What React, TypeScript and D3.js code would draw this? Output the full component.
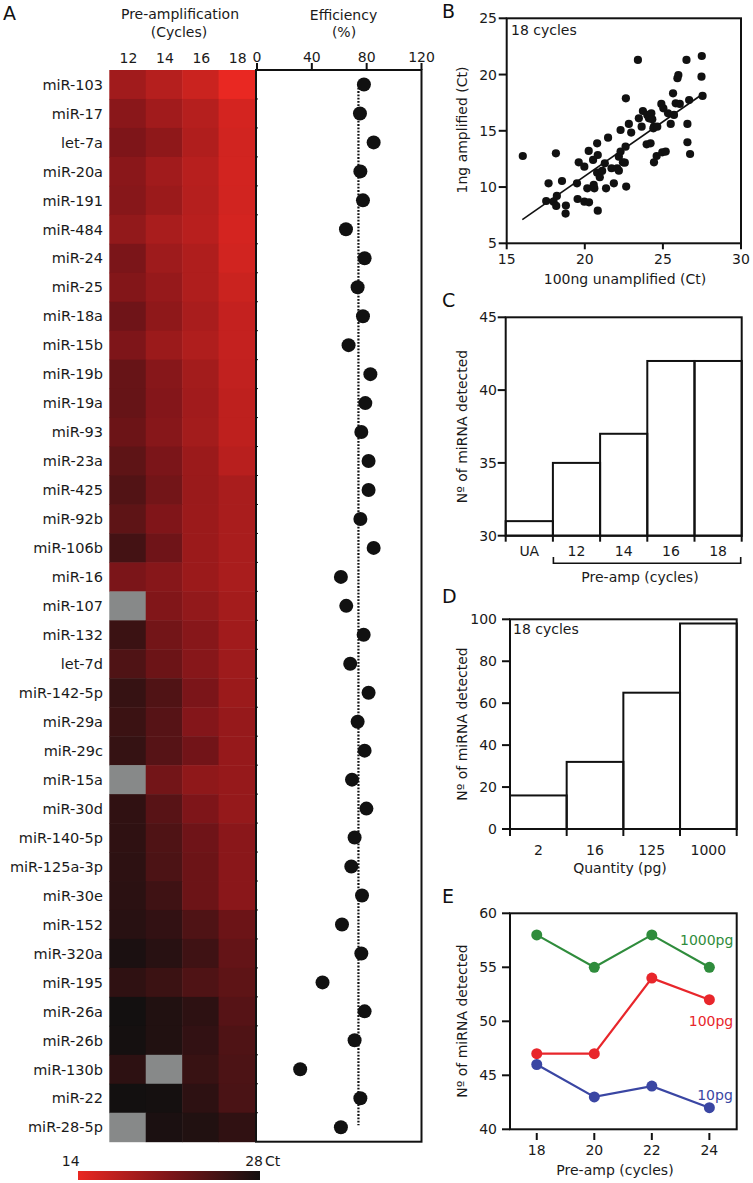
import React from "react";
import * as d3 from "d3";

// ---------- Panel A data ----------
const mirnas = [
  "miR-103", "miR-17", "let-7a", "miR-20a", "miR-191", "miR-484", "miR-24", "miR-25",
  "miR-18a", "miR-15b", "miR-19b", "miR-19a", "miR-93", "miR-23a", "miR-425", "miR-92b",
  "miR-106b", "miR-16", "miR-107", "miR-132", "let-7d", "miR-142-5p", "miR-29a", "miR-29c",
  "miR-15a", "miR-30d", "miR-140-5p", "miR-125a-3p", "miR-30e", "miR-152", "miR-320a",
  "miR-195", "miR-26a", "miR-26b", "miR-130b", "miR-22", "miR-28-5p",
];
const cycleLabels = ["12", "14", "16", "18"];
const ct12 = [18.7, 20.2, 21.0, 20.2, 20.4, 19.7, 21.2, 20.7, 22.0, 21.0, 22.5, 22.6, 22.2, 23.1, 23.9, 23.1, 24.8, 21.2, null, 25.4, 24.1, 25.7, 25.4, 25.8, null, 26.1, 26.2, 26.3, 26.4, 26.6, 27.5, 26.2, 28.0, 27.9, 26.3, 28.0, null];
const ct14 = [17.4, 18.7, 19.9, 18.7, 19.1, 18.2, 18.9, 19.4, 19.9, 19.1, 20.4, 20.6, 20.4, 21.2, 21.7, 20.9, 22.0, 20.4, 20.8, 21.7, 22.2, 24.0, 23.6, 23.6, 21.7, 23.5, 24.1, 24.3, 25.1, 26.0, 26.6, 25.4, 27.1, 27.1, null, 27.9, 27.5];
const ct16 = [16.0, 17.4, 17.7, 17.3, 17.4, 17.2, 17.8, 17.8, 18.2, 17.8, 18.6, 18.7, 18.6, 19.1, 19.2, 19.1, 19.1, 19.1, 19.7, 20.4, 20.4, 21.2, 20.6, 21.8, 19.9, 21.0, 22.0, 22.2, 22.2, 24.1, 25.1, 24.1, 26.3, 26.0, 25.6, 26.3, 27.1];
const ct18 = [14.0, 15.4, 15.6, 15.5, 15.6, 15.4, 15.6, 16.0, 16.4, 16.4, 16.6, 16.8, 16.8, 17.2, 18.2, 18.2, 18.2, 18.2, 18.5, 18.7, 18.9, 19.1, 19.4, 19.4, 19.4, 19.5, 20.2, 20.2, 20.2, 22.2, 22.7, 23.1, 23.6, 24.1, 24.3, 24.4, 26.1];
const efficiency = [78.0, 75.1, 85.1, 75.4, 77.3, 64.9, 78.5, 73.4, 77.3, 66.8, 82.7, 79.0, 76.1, 81.4, 81.4, 75.4, 85.1, 61.2, 65.1, 77.8, 68.0, 81.4, 73.4, 78.5, 69.3, 79.8, 71.2, 68.8, 76.6, 62.0, 76.1, 47.8, 78.5, 71.2, 31.5, 75.4, 61.2];
const effTicks = [0, 40, 80, 120];
const effMedian = 74;
const ctLegend = [14, 28];

// ---------- Panel B data ----------
const scatterX = [16.03, 18.15, 17.68, 18.54, 17.53, 18.0, 18.21, 18.17, 18.79, 18.77, 19.61, 19.97, 19.5, 19.54, 19.97, 20.27, 20.25, 20.79, 20.53, 20.83, 20.16, 20.57, 20.61, 20.79, 20.96, 21.11, 21.28, 20.83, 21.36, 21.49, 21.71, 21.86, 22.07, 22.18, 22.18, 22.29, 22.44, 22.61, 22.29, 22.56, 22.65, 22.63, 22.82, 22.97, 23.4, 23.46, 23.64, 23.72, 24.0, 24.11, 23.96, 24.21, 24.26, 24.32, 24.43, 24.39, 24.64, 24.43, 24.6, 24.96, 25.18, 24.9, 25.03, 25.33, 25.5, 25.65, 25.71, 25.82, 25.93, 25.99, 26.08, 26.51, 26.68, 26.57, 26.57, 26.74, 27.49, 27.47, 27.54];
const scatterY = [12.76, 13.0, 10.33, 10.54, 8.76, 8.7, 9.21, 8.32, 8.35, 7.64, 12.2, 11.81, 10.33, 8.94, 8.7, 8.64, 13.21, 13.89, 12.41, 12.85, 9.89, 10.19, 9.89, 11.28, 10.87, 11.43, 12.11, 7.9, 9.89, 14.39, 11.67, 10.33, 11.67, 11.46, 12.7, 13.15, 12.2, 13.59, 15.07, 12.17, 10.04, 17.89, 15.61, 14.84, 21.3, 16.11, 15.37, 16.76, 16.41, 16.11, 13.8, 13.89, 16.55, 16.02, 15.37, 15.22, 15.37, 12.2, 12.76, 13.09, 13.15, 17.39, 17.0, 16.55, 15.61, 18.33, 16.41, 17.44, 19.67, 19.96, 17.39, 21.3, 17.74, 15.61, 13.98, 12.94, 21.65, 19.81, 18.1];
const fitSlope = 0.967;
const fitIntercept = -8.37;
const fitRange = [16.0, 27.55];
const bTicksX = [15, 20, 25, 30];
const bTicksY = [5, 10, 15, 20, 25];

// ---------- Panel C data ----------
const cCategories = ["UA", "12", "14", "16", "18"];
const cValues = [31, 35, 37, 42, 42];
const cTicks = [30, 35, 40, 45];

// ---------- Panel D data ----------
const dCategories = ["2", "16", "125", "1000"];
const dValues = [16, 32, 65, 98];
const dTicks = [0, 20, 40, 60, 80, 100];

// ---------- Panel E data ----------
const eCycles = [18, 20, 22, 24];
const e1000 = [58, 55, 58, 55];
const e100 = [47, 47, 54, 52];
const e10 = [46, 43, 44, 42];
const eTicks = [40, 45, 50, 55, 60];

const FONT = "'DejaVu Sans', sans-serif";
const FS = 14;

export default function App() {
  // Panel A scales
  const rowBand = d3.scaleBand<string>().domain(mirnas).range([70, 1141.7]);
  const colBand = d3.scaleBand<string>().domain(cycleLabels).range([109.3, 255]);
  const effX = d3.scaleLinear().domain([0, 120]).range([257, 421.5]);
  const heat = d3
    .scaleLinear<string>()
    .domain([14, 21, 28])
    .range(["#e92822", "#7e1519", "#131010"])
    .interpolate(d3.interpolateRgb)
    .clamp(true);
  const ctCols = [ct12, ct14, ct16, ct18];
  const rh = rowBand.bandwidth();

  // Panel B scales
  const bx = d3.scaleLinear().domain([15, 30]).range([506.7, 741]);
  const by = d3.scaleLinear().domain([5, 25]).range([243.3, 18.3]);

  // Panel C
  const cx = d3.scaleBand<string>().domain(cCategories).range([505.7, 741.7]);
  const cy = d3.scaleLinear().domain([30, 45]).range([535.7, 317.3]);

  // Panel D
  const dx = d3.scaleBand<string>().domain(dCategories).range([510, 736.7]);
  const dy = d3.scaleLinear().domain([0, 100]).range([829, 619.3]);

  // Panel E
  const ex = d3.scaleLinear().domain([17.07, 24.95]).range([510, 736.7]);
  const ey = d3.scaleLinear().domain([40, 60]).range([1129.3, 913.3]);
  const eLine = d3
    .line<number>()
    .x((_, i) => ex(eCycles[i]))
    .y((v) => ey(v));
  const eSeries = [
    { vals: e1000, color: "#2f8c3c", label: "1000pg", lx: 706.7, ly: 945 },
    { vals: e100, color: "#e8262b", label: "100pg", lx: 711, ly: 1025.5 },
    { vals: e10, color: "#3a46a3", label: "10pg", lx: 715, ly: 1100 },
  ];

  const bandEdges = (sc: d3.ScaleBand<string>) => {
    const d = sc.domain();
    const e = d.map((k) => sc(k) as number);
    e.push((sc(d[d.length - 1]) as number) + sc.bandwidth());
    return e;
  };

  const txt = { fontFamily: FONT, fontSize: FS, fill: "#1a1a1a" } as const;
  const yTitle = (cxp: number, cyp: number, s: string) => (
    <text
      transform={`translate(${cxp},${cyp}) rotate(-90)`}
      textAnchor="middle"
      dominantBaseline="central"
      {...txt}
    >
      {s}
    </text>
  );

  return (
    <svg
      width={753}
      height={1183}
      style={{ position: "absolute", left: 0, top: 0, display: "block", background: "#fff" }}
    >
      <defs>
        <linearGradient id="ctgrad" x1="0" x2="1" y1="0" y2="0">
          <stop offset="0%" stopColor={heat(ctLegend[0])} />
          <stop offset="50%" stopColor={heat((ctLegend[0] + ctLegend[1]) / 2)} />
          <stop offset="100%" stopColor={heat(ctLegend[1])} />
        </linearGradient>
      </defs>
      <rect x={0} y={0} width={753} height={1183} fill="#fff" />

      {/* ================= Panel A ================= */}
      <text x={3} y={20} fontFamily={FONT} fontSize={19} fill="#111">A</text>
      <text x={180} y={19} textAnchor="middle" {...txt}>Pre-amplification</text>
      <text x={179} y={37} textAnchor="middle" {...txt}>(Cycles)</text>
      <text x={343.5} y={20} textAnchor="middle" {...txt}>Efficiency</text>
      <text x={344} y={37} textAnchor="middle" {...txt}>(%)</text>
      {cycleLabels.map((c) => (
        <text key={c} x={(colBand(c) as number) + colBand.bandwidth() / 2 + 1} y={62.5} textAnchor="middle" {...txt}>
          {c}
        </text>
      ))}
      {/* heatmap */}
      {mirnas.map((m, i) =>
        cycleLabels.map((c, j) => {
          const v = ctCols[j][i];
          return (
            <rect
              key={m + c}
              x={colBand(c) as number}
              y={rowBand(m) as number}
              width={colBand.bandwidth() + 0.5}
              height={rh + 0.5}
              fill={v == null ? "#878989" : heat(v)}
            />
          );
        })
      )}
      {mirnas.map((m) => (
        <text key={m} x={103} y={(rowBand(m) as number) + rh / 2} dy="0.36em" textAnchor="end" fontFamily={FONT} fontSize={14.5} fill="#1a1a1a">
          {m}
        </text>
      ))}
      {/* efficiency box */}
      <rect x={256} y={70} width={165.5} height={1071.7} fill="none" stroke="#111" strokeWidth={2} />
      {effTicks.map((t) => (
        <g key={t}>
          <line x1={effX(t)} x2={effX(t)} y1={63} y2={70} stroke="#111" strokeWidth={2} />
          <text x={effX(t)} y={61.5} textAnchor="middle" {...txt}>
            {t}
          </text>
        </g>
      ))}
      {mirnas.slice(1).map((m) => (
        <line key={"tk" + m} x1={255} x2={258} y1={rowBand(m) as number} y2={rowBand(m) as number} stroke="#111" strokeWidth={1} />
      ))}
      <line
        x1={effX(effMedian)}
        x2={effX(effMedian)}
        y1={(rowBand(mirnas[0]) as number) + rh / 2}
        y2={(rowBand(mirnas[mirnas.length - 1]) as number) + rh / 2 - 2}
        stroke="#111"
        strokeWidth={2.2}
        strokeDasharray="1.8 1.5"
      />
      {mirnas.map((m, i) => (
        <circle key={"d" + m} cx={effX(efficiency[i])} cy={(rowBand(m) as number) + rh / 2} r={7} fill="#111" />
      ))}
      {/* colour legend */}
      <rect x={78} y={1171} width={182} height={9} fill="url(#ctgrad)" />
      <text x={70.7} y={1166} textAnchor="middle" {...txt}>{ctLegend[0]}</text>
      <text x={263} y={1166} textAnchor="end" {...txt}>{ctLegend[1]}</text>
      <text x={265} y={1166} textAnchor="start" {...txt}>Ct</text>

      {/* ================= Panel B ================= */}
      <text x={442} y={18} fontFamily={FONT} fontSize={19} fill="#111">B</text>
      <rect x={bx(15)} y={by(25)} width={bx(30) - bx(15)} height={by(5) - by(25)} fill="none" stroke="#111" strokeWidth={2} />
      {bTicksY.map((t) => (
        <g key={"by" + t}>
          <line x1={bx(15) - 8} x2={bx(15)} y1={by(t)} y2={by(t)} stroke="#111" strokeWidth={2} />
          <text x={497} y={by(t)} dy="0.36em" textAnchor="end" {...txt}>{t}</text>
        </g>
      ))}
      {bTicksX.map((t) => (
        <g key={"bx" + t}>
          <line x1={bx(t)} x2={bx(t)} y1={by(5)} y2={by(5) + 6} stroke="#111" strokeWidth={2} />
          <text x={bx(t)} y={264} textAnchor="middle" {...txt}>{t}</text>
        </g>
      ))}
      <text x={625} y={284} textAnchor="middle" {...txt}>100ng unamplified (Ct)</text>
      {yTitle(461.5, 130, "1ng amplified (Ct)")}
      <text x={511} y={34.5} {...txt}>18 cycles</text>
      <line
        x1={bx(fitRange[0])}
        y1={by(fitSlope * fitRange[0] + fitIntercept)}
        x2={bx(fitRange[1])}
        y2={by(fitSlope * fitRange[1] + fitIntercept)}
        stroke="#111"
        strokeWidth={1.6}
      />
      {scatterX.map((x, i) => (
        <circle key={"s" + i} cx={bx(x)} cy={by(scatterY[i])} r={4.1} fill="#111" />
      ))}

      {/* ================= Panel C ================= */}
      <text x={442} y={307} fontFamily={FONT} fontSize={19} fill="#111">C</text>
      <rect x={505.7} y={cy(45)} width={741.7 - 505.7} height={cy(30) - cy(45)} fill="none" stroke="#111" strokeWidth={2} />
      {cCategories.map((c, i) => (
        <rect key={"cb" + c} x={cx(c) as number} y={cy(cValues[i])} width={cx.bandwidth()} height={cy(30) - cy(cValues[i])} fill="none" stroke="#111" strokeWidth={2} />
      ))}
      {cTicks.map((t) => (
        <g key={"cy" + t}>
          <line x1={505.7 - 8} x2={505.7} y1={cy(t)} y2={cy(t)} stroke="#111" strokeWidth={2} />
          <text x={497} y={cy(t)} dy="0.36em" textAnchor="end" {...txt}>{t}</text>
        </g>
      ))}
      {bandEdges(cx).map((e, i) => (
        <line key={"ce" + i} x1={e} x2={e} y1={cy(30)} y2={cy(30) + 6} stroke="#111" strokeWidth={2} />
      ))}
      {cCategories.map((c) => (
        <text key={"cl" + c} x={(cx(c) as number) + cx.bandwidth() / 2} y={556} textAnchor="middle" {...txt}>{c}</text>
      ))}
      <path
        d={`M${(cx("12") as number) + 0.5},557 V563.3 H${(cx("18") as number) + cx.bandwidth() - 1} V557`}
        fill="none"
        stroke="#111"
        strokeWidth={1.6}
      />
      <text x={640} y={582} textAnchor="middle" {...txt}>Pre-amp (cycles)</text>
      {yTitle(461.5, 426.5, "Nº of miRNA detected")}

      {/* ================= Panel D ================= */}
      <text x={442} y={603} fontFamily={FONT} fontSize={19} fill="#111">D</text>
      <rect x={510} y={dy(100)} width={736.7 - 510} height={dy(0) - dy(100)} fill="none" stroke="#111" strokeWidth={2} />
      {dCategories.map((c, i) => (
        <rect key={"db" + c} x={dx(c) as number} y={dy(dValues[i])} width={dx.bandwidth()} height={dy(0) - dy(dValues[i])} fill="none" stroke="#111" strokeWidth={2} />
      ))}
      {dTicks.map((t) => (
        <g key={"dy" + t}>
          <line x1={510 - 8} x2={510} y1={dy(t)} y2={dy(t)} stroke="#111" strokeWidth={2} />
          <text x={497} y={dy(t)} dy="0.36em" textAnchor="end" {...txt}>{t}</text>
        </g>
      ))}
      {bandEdges(dx).map((e, i) => (
        <line key={"de" + i} x1={e} x2={e} y1={dy(0)} y2={dy(0) + 7} stroke="#111" strokeWidth={2} />
      ))}
      {dCategories.map((c) => (
        <text key={"dl" + c} x={(dx(c) as number) + dx.bandwidth() / 2} y={855} textAnchor="middle" {...txt}>{c}</text>
      ))}
      <text x={620} y={873} textAnchor="middle" {...txt}>Quantity (pg)</text>
      <text x={513} y={634} {...txt}>18 cycles</text>
      {yTitle(461.5, 724, "Nº of miRNA detected")}

      {/* ================= Panel E ================= */}
      <text x={442} y={903} fontFamily={FONT} fontSize={19} fill="#111">E</text>
      <rect x={510} y={ey(60)} width={736.7 - 510} height={ey(40) - ey(60)} fill="none" stroke="#111" strokeWidth={2} />
      {eTicks.map((t) => (
        <g key={"ey" + t}>
          <line x1={510 - 8} x2={510} y1={ey(t)} y2={ey(t)} stroke="#111" strokeWidth={2} />
          <text x={497} y={ey(t)} dy="0.36em" textAnchor="end" {...txt}>{t}</text>
        </g>
      ))}
      {eCycles.map((c) => (
        <g key={"ex" + c}>
          <line x1={ex(c)} x2={ex(c)} y1={1133} y2={1140} stroke="#111" strokeWidth={2} />
          <text x={ex(c)} y={1155} textAnchor="middle" {...txt}>{c}</text>
        </g>
      ))}
      <text x={615} y={1175} textAnchor="middle" {...txt}>Pre-amp (cycles)</text>
      {yTitle(461.5, 1021, "Nº of miRNA detected")}
      {eSeries.map((s) => (
        <g key={s.label}>
          <path d={eLine(s.vals) as string} fill="none" stroke={s.color} strokeWidth={2.2} />
          {s.vals.map((v, i) => (
            <circle key={i} cx={ex(eCycles[i])} cy={ey(v)} r={5.5} fill={s.color} />
          ))}
          <text x={s.lx} y={s.ly} textAnchor="middle" fontFamily={FONT} fontSize={FS} fill={s.color}>
            {s.label}
          </text>
        </g>
      ))}
    </svg>
  );
}
